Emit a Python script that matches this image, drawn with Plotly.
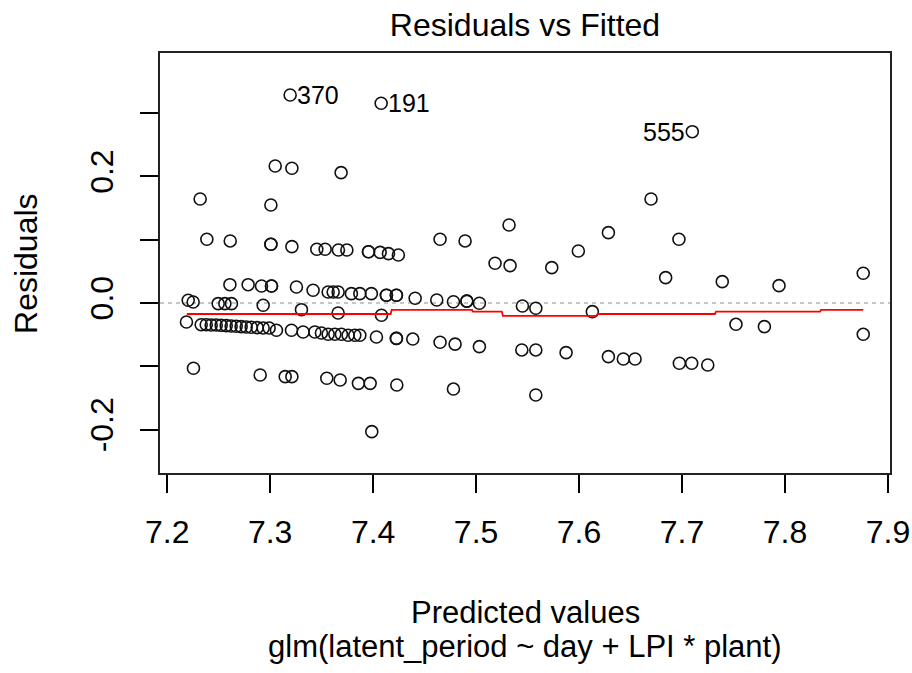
import plotly.graph_objects as go

# Fitted (predicted) values and residuals
fitted = [
    7.3194, 7.4078, 7.7100, 7.3049, 7.3211, 7.3689, 7.2320, 7.6699, 7.3007, 7.5320,
    7.6285, 7.2385, 7.4650, 7.6970, 7.2612, 7.4893, 7.3007, 7.3007, 7.3211, 7.3453,
    7.3534, 7.3663, 7.3745, 7.3955, 7.3955, 7.4068, 7.4149, 7.4245, 7.5993, 7.5184,
    7.5330, 7.5735, 7.6841, 7.8760, 7.7391, 7.7942,
    # ~0.03 .. 0.0 row
    7.2609, 7.2786, 7.2916, 7.3013, 7.3013, 7.3255, 7.3417, 7.3563, 7.3612, 7.3660,
    7.3789, 7.3871, 7.3983, 7.4129, 7.4129, 7.4226, 7.4226, 7.4408, 7.4618, 7.4780,
    7.4910, 7.4910, 7.5032,
    # near zero
    7.2204, 7.2252, 7.2495, 7.2560, 7.2624, 7.2932, 7.3304, 7.3660, 7.4081, 7.5450,
    7.5580, 7.6129,
    # -0.03 .. -0.10 row
    7.2187, 7.2330, 7.2379, 7.2427, 7.2476, 7.2524, 7.2573, 7.2621, 7.2670, 7.2718,
    7.2767, 7.2816, 7.2874, 7.2932, 7.2990, 7.3061, 7.3207, 7.3320, 7.3434, 7.3498,
    7.3563, 7.3628, 7.3692, 7.3757, 7.3822, 7.3871, 7.4032, 7.4226, 7.4226, 7.4385,
    7.4650, 7.4796, 7.5032, 7.5444, 7.5580, 7.5874, 7.6285, 7.6430, 7.6544, 7.6974,
    7.7094, 7.7250, 7.7524, 7.7800, 7.8760,
    # lower points
    7.2255, 7.2903, 7.3146, 7.3211, 7.3550, 7.3680, 7.3857, 7.3971, 7.4230, 7.4780,
    7.5580, 7.3987,
]
residuals = [
    0.3286, 0.3155, 0.2706, 0.2164, 0.2128, 0.2059, 0.1643, 0.1643, 0.1548, 0.1232,
    0.1111, 0.1006, 0.1006, 0.1006, 0.0980, 0.0980, 0.0927, 0.0927, 0.0890, 0.0848,
    0.0848, 0.0837, 0.0837, 0.0810, 0.0810, 0.0800, 0.0780, 0.0758, 0.0821, 0.0627,
    0.0590, 0.0558, 0.0400, 0.0469, 0.0337, 0.0274,
    0.0289, 0.0289, 0.0269, 0.0269, 0.0269, 0.0253, 0.0201, 0.0174, 0.0174, 0.0174,
    0.0147, 0.0147, 0.0147, 0.0122, 0.0122, 0.0122, 0.0122, 0.0074, 0.0047, 0.0020,
    0.0030, 0.0030, -0.0005,
    0.0043, 0.0016, -0.0011, -0.0011, -0.0011, -0.0036, -0.0106, -0.0158, -0.0194, -0.0047,
    -0.0084, -0.0137,
    -0.0300, -0.0343, -0.0343, -0.0348, -0.0348, -0.0353, -0.0358, -0.0363, -0.0368, -0.0374,
    -0.0379, -0.0384, -0.0390, -0.0395, -0.0395, -0.0431, -0.0431, -0.0458, -0.0458, -0.0474,
    -0.0494, -0.0494, -0.0494, -0.0510, -0.0510, -0.0510, -0.0537, -0.0560, -0.0560, -0.0570,
    -0.0620, -0.0650, -0.0690, -0.0742, -0.0742, -0.0785, -0.0848, -0.0885, -0.0885, -0.0953,
    -0.0953, -0.0980, -0.0337, -0.0374, -0.0495,
    -0.1032, -0.1137, -0.1164, -0.1164, -0.1190, -0.1216, -0.1270, -0.1270, -0.1295, -0.1360,
    -0.1453, -0.2033,
]

# Smoother (red line)
smooth_x = [7.219, 7.417, 7.418, 7.496, 7.497, 7.525, 7.526, 7.617, 7.618, 7.732, 7.733, 7.834, 7.835, 7.876]
smooth_y = [-0.0174, -0.0174, -0.0110, -0.0110, -0.0137, -0.0137, -0.0205, -0.0205, -0.0174, -0.0174, -0.0137, -0.0137, -0.0110, -0.0110]

# Labelled observations
label_ids = ["370", "191", "555"]
label_x = [7.3194, 7.4078, 7.7100]
label_y = [0.3286, 0.3155, 0.2706]
label_side = ["right", "right", "left"]

x_ticks = [7.2, 7.3, 7.4, 7.5, 7.6, 7.7, 7.8, 7.9]
x_tick_text = ["7.2", "7.3", "7.4", "7.5", "7.6", "7.7", "7.8", "7.9"]
y_ticks = [-0.2, -0.1, 0.0, 0.1, 0.2, 0.3]
y_tick_text = ["-0.2", "", "0.0", "", "0.2", ""]
ref_line_y = 0.0

FONT = "Liberation Sans, Arial, sans-serif"
FS = 32
FS_XT = 31

fig = go.Figure()
fig.add_hline(y=ref_line_y, line=dict(color="#b4b4b4", width=1.5, dash="4px,4px"), layer="below")
fig.add_trace(go.Scatter(
    x=fitted, y=residuals, mode="markers",
    marker=dict(symbol="circle-open", size=12, color="#111", line=dict(width=1.6, color="#111")),
    showlegend=False, hoverinfo="x+y",
))
fig.add_trace(go.Scatter(
    x=smooth_x, y=smooth_y, mode="lines",
    line=dict(color="red", width=1.8), showlegend=False, hoverinfo="skip",
))

for lid, lx, ly, side in zip(label_ids, label_x, label_y, label_side):
    fig.add_annotation(
        x=lx, y=ly, xref="x", yref="y", text=lid, showarrow=False,
        xanchor="left" if side == "right" else "right",
        xshift=5 if side == "right" else -5, yanchor="middle",
        font=dict(family=FONT, size=25, color="black"),
    )

fig.add_annotation(
    x=0.5, y=-0.331, xref="paper", yref="paper", text="Predicted values",
    showarrow=False, xanchor="center", yanchor="middle",
    font=dict(family=FONT, size=FS_XT, color="black"),
)
fig.add_annotation(
    x=0.5, y=-0.412, xref="paper", yref="paper", text="glm(latent_period ~ day + LPI * plant)",
    showarrow=False, xanchor="center", yanchor="middle",
    font=dict(family=FONT, size=FS_XT, color="black"),
)
fig.add_annotation(
    x=-0.1836, y=0.5, xref="paper", yref="paper", text="Residuals",
    showarrow=False, xanchor="center", yanchor="middle", textangle=-90,
    font=dict(family=FONT, size=FS, color="black"),
)

fig.update_layout(
    width=912, height=673,
    margin=dict(l=160, r=22, t=53, b=200, autoexpand=False),
    paper_bgcolor="white", plot_bgcolor="white",
    font=dict(family=FONT, size=FS, color="black"),
    title=dict(text="Residuals vs Fitted", x=0.5, xref="paper", xanchor="center",
               y=1 - 25 / 673, yref="container", yanchor="middle",
               font=dict(family=FONT, size=FS, color="black")),
    xaxis=dict(range=[7.193, 7.902], tickmode="array", tickvals=x_ticks, ticktext=x_tick_text,
               ticks="outside", ticklen=18, tickwidth=1.5, tickcolor="black",
               showline=True, mirror=True, linecolor="#222", linewidth=2,
               showgrid=False, zeroline=False, ticklabelstandoff=12, automargin=False,
               tickfont=dict(family=FONT, size=FS, color="black")),
    yaxis=dict(range=[-0.2686, 0.3949], tickmode="array", tickvals=y_ticks, ticktext=y_tick_text,
               ticks="outside", ticklen=18, tickwidth=1.5, tickcolor="black", tickangle=-90,
               showline=True, mirror=True, linecolor="#222", linewidth=2,
               showgrid=False, zeroline=False, ticklabelstandoff=14, automargin=False,
               tickfont=dict(family=FONT, size=FS, color="black")),
)

fig.write_html("out.html")
